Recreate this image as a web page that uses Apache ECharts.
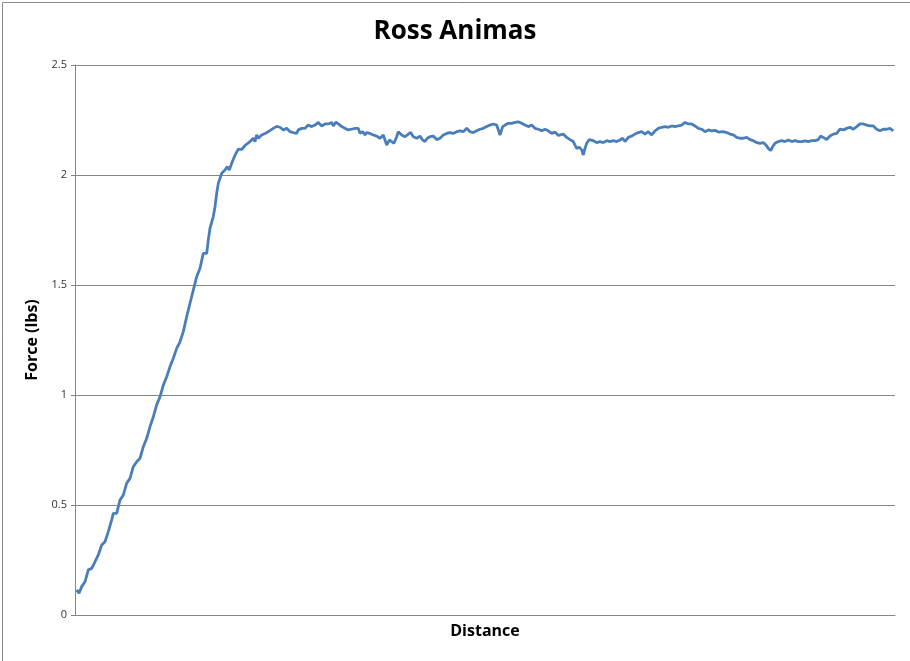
<!DOCTYPE html>
<html><head><meta charset="utf-8">
<script src="https://cdn.jsdelivr.net/npm/echarts@6/dist/echarts.min.js"></script>
<style>html,body{margin:0;padding:0;background:#fff}#c{width:910px;height:661px}</style>
</head><body><div id="c"></div>
<script>
const title = 'Ross Animas';
const xName = 'Distance';
const yName = 'Force (lbs)';
const yTicks = [0, 0.5, 1, 1.5, 2, 2.5];
const distance = [0.17,0.4,0.67,1.0,1.33,1.67,2.0,2.33,2.67,3.0,3.33,3.67,3.83,4.17,4.5,4.83,5.17,5.5,5.83,6.17,6.5,6.83,7.17,7.5,7.83,8.17,8.5,8.83,9.17,9.5,9.83,10.17,10.5,10.83,11.17,11.5,11.83,12.17,12.5,12.83,13.17,13.33,13.5,13.83,14.0,14.17,14.33,14.67,15.0,15.23,15.43,15.67,16.0,16.33,16.67,17.0,17.5,17.83,18.0,18.17,18.33,18.67,19.0,19.33,19.5,19.83,20.17,20.5,20.83,21.17,21.5,21.83,22.17,22.33,22.67,23.0,23.33,23.67,24.0,24.33,24.67,25.0,25.33,25.67,25.83,26.1,26.33,26.67,27.0,27.33,27.67,28.0,28.33,28.5,28.77,29.0,29.17,29.5,29.83,30.17,30.5,30.83,31.0,31.17,31.43,31.67,31.9,32.17,32.33,32.67,33.0,33.33,33.57,33.83,34.17,34.5,34.73,35.0,35.23,35.5,35.83,36.17,36.5,36.83,37.17,37.5,37.83,38.17,38.5,38.83,39.17,39.5,39.83,40.17,40.5,40.83,41.17,41.5,41.83,42.17,42.5,42.77,43.0,43.33,43.67,44.0,44.33,44.67,45.0,45.33,45.67,46.0,46.33,46.67,47.0,47.33,47.67,48.0,48.33,48.5,48.83,49.17,49.5,49.83,50.0,50.17,50.43,50.67,50.83,51.0,51.17,51.43,51.83,52.17,52.5,52.83,53.17,53.5,53.83,54.17,54.5,54.77,55.0,55.33,55.67,56.0,56.33,56.67,57.0,57.33,57.67,58.0,58.33,58.67,59.0,59.33,59.67,60.0,60.33,60.67,61.0,61.33,61.67,62.0,62.33,62.67,63.0,63.33,63.67,64.0,64.33,64.5,64.83,65.17,65.5,65.83,66.17,66.5,66.83,67.17,67.5,67.83,68.17,68.5,68.83,69.1,69.33,69.57,69.77,70.0,70.33,70.67,71.0,71.33,71.67,72.0,72.33,72.67,73.0,73.33,73.67,74.0,74.33,74.57,74.83,75.17,75.5,75.83,76.17,76.5,76.83,77.17,77.5,77.83,78.17,78.5,78.83,79.17,79.5,79.83,80.17,80.5,80.83,81.17,81.5,81.83];
const force = [0.114,0.099,0.129,0.151,0.205,0.212,0.242,0.273,0.318,0.333,0.379,0.432,0.462,0.462,0.523,0.545,0.599,0.621,0.674,0.697,0.712,0.765,0.803,0.856,0.901,0.955,0.992,1.045,1.083,1.129,1.167,1.212,1.242,1.288,1.356,1.417,1.477,1.538,1.576,1.644,1.644,1.705,1.758,1.811,1.856,1.917,1.962,2.008,2.023,2.038,2.023,2.053,2.09,2.118,2.116,2.134,2.152,2.167,2.152,2.182,2.167,2.182,2.189,2.197,2.19,2.212,2.221,2.217,2.205,2.212,2.197,2.193,2.189,2.205,2.212,2.212,2.227,2.22,2.227,2.239,2.223,2.232,2.232,2.239,2.223,2.241,2.232,2.22,2.212,2.205,2.208,2.212,2.212,2.189,2.197,2.182,2.193,2.189,2.182,2.177,2.167,2.182,2.159,2.136,2.159,2.152,2.144,2.174,2.197,2.182,2.174,2.186,2.193,2.174,2.167,2.177,2.161,2.152,2.167,2.174,2.177,2.161,2.167,2.182,2.189,2.193,2.189,2.197,2.201,2.197,2.212,2.197,2.193,2.201,2.208,2.212,2.22,2.227,2.232,2.227,2.182,2.22,2.227,2.235,2.235,2.239,2.242,2.235,2.227,2.22,2.227,2.212,2.208,2.201,2.208,2.201,2.189,2.195,2.18,2.182,2.186,2.171,2.161,2.152,2.136,2.121,2.126,2.114,2.091,2.121,2.144,2.161,2.156,2.147,2.152,2.147,2.156,2.152,2.156,2.152,2.159,2.167,2.152,2.171,2.177,2.186,2.193,2.197,2.186,2.197,2.182,2.201,2.212,2.217,2.22,2.217,2.223,2.22,2.223,2.227,2.239,2.232,2.232,2.223,2.212,2.208,2.197,2.205,2.201,2.203,2.195,2.201,2.197,2.193,2.186,2.182,2.171,2.167,2.167,2.171,2.161,2.156,2.147,2.144,2.147,2.136,2.121,2.111,2.129,2.144,2.152,2.156,2.152,2.159,2.152,2.156,2.152,2.152,2.155,2.152,2.156,2.156,2.161,2.177,2.171,2.161,2.177,2.186,2.189,2.208,2.205,2.212,2.217,2.208,2.22,2.232,2.232,2.227,2.223,2.223,2.208,2.201,2.208,2.208,2.212,2.201];

const chart = echarts.init(document.getElementById('c'));
const font = '"Open Sans", "Noto Sans", sans-serif';
chart.setOption({
  animation: false,
  backgroundColor: '#fff',
  title: {text: title, left: 'center', top: 14, textStyle: {fontFamily: font, fontSize: 26, fontWeight: 'bold', color: '#000'}},
  graphic: [{type: 'rect', left: 0, top: 0, shape: {width: 909, height: 660}, style: {fill: 'none', stroke: '#888', lineWidth: 1}, silent: true}],
  grid: {left: 75, right: 15, top: 65, bottom: 46},
  xAxis: {
    type: 'value', min: 0, max: 82,
    name: xName, nameLocation: 'middle', nameGap: 8,
    nameTextStyle: {fontFamily: font, fontSize: 16, fontWeight: 'bold', color: '#000'},
    axisLine: {show: true, lineStyle: {color: '#868686', width: 1}},
    axisTick: {show: false}, axisLabel: {show: false}, splitLine: {show: false}
  },
  yAxis: {
    type: 'value', min: 0, max: 2.5, interval: 0.5,
    name: yName, nameLocation: 'middle', nameGap: 35, nameRotate: 90,
    nameTextStyle: {fontFamily: font, fontSize: 16, fontWeight: 'bold', color: '#000'},
    axisLine: {show: true, lineStyle: {color: '#868686', width: 1}},
    axisTick: {show: true, length: 4, lineStyle: {color: '#868686'}},
    axisLabel: {fontFamily: font, fontSize: 11, color: '#333', margin: 8,
      formatter: v => yTicks.includes(v) ? String(v) : ''},
    splitLine: {show: true, lineStyle: {color: '#868686', width: 1}}
  },
  series: [{
    type: 'line', data: distance.map((d, i) => [d, force[i]]),
    showSymbol: false, symbol: 'none', smooth: false,
    lineStyle: {color: '#4a7ebb', width: 2.8}, itemStyle: {color: '#4a7ebb'}
  }]
});
</script></body></html>
